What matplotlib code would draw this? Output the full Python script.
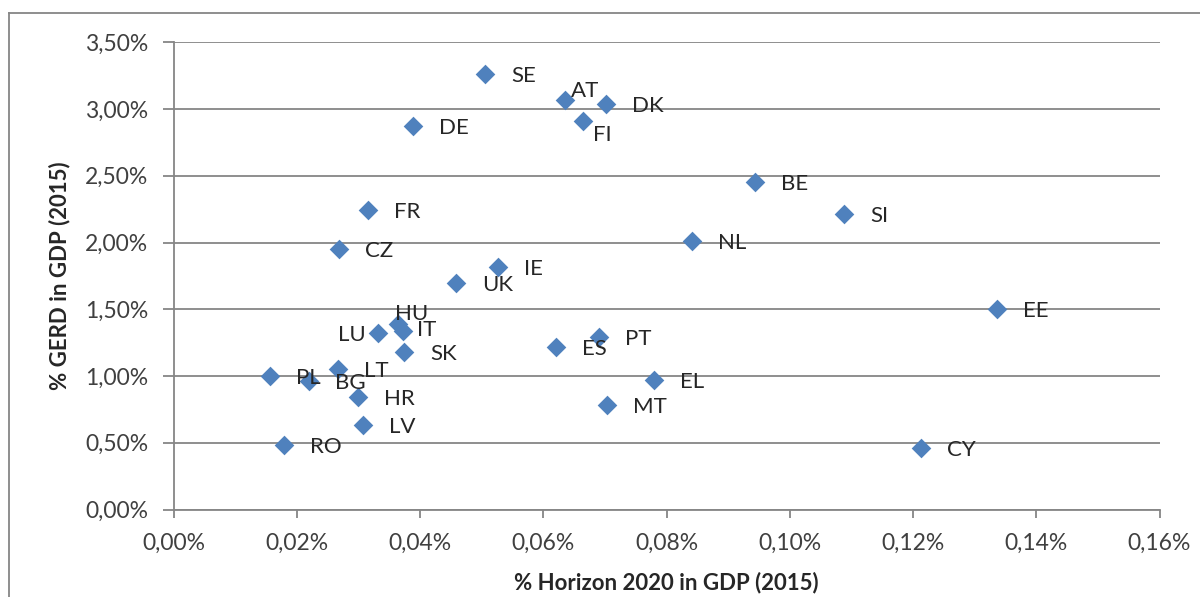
import matplotlib.pyplot as plt
from matplotlib.lines import Line2D
from matplotlib.ticker import FuncFormatter, MultipleLocator

# Horizon 2020 funding vs GERD, both as % of GDP (2015)
countries = ['SE', 'AT', 'DK', 'FI', 'DE', 'BE', 'SI', 'NL', 'FR', 'CZ', 'IE', 'UK', 'EE', 'CY',
             'HU', 'IT', 'LU', 'SK', 'ES', 'PT', 'EL', 'MT', 'PL', 'BG', 'LT', 'HR', 'LV', 'RO']
h2020 = [0.0506, 0.0636, 0.0702, 0.0665, 0.0389, 0.0943, 0.1088, 0.0842, 0.0316, 0.0268,
         0.0526, 0.0458, 0.1337, 0.1213,
         0.0364, 0.0373, 0.0332, 0.0374, 0.0620, 0.0691, 0.0779, 0.0704, 0.0157, 0.0220,
         0.0267, 0.0299, 0.0307, 0.0180]
gerd = [3.26, 3.07, 3.04, 2.91, 2.87, 2.45, 2.21, 2.01, 2.24, 1.95, 1.82, 1.70, 1.50, 0.46,
        1.39, 1.34, 1.32, 1.18, 1.22, 1.29, 0.97, 0.78, 1.00, 0.96, 1.05, 0.84, 0.63, 0.48]

# label offsets in pixels (dx, dy), default is right of the marker
label_offsets = {'AT': (6, 9), 'FI': (10, -14), 'HU': (-3, 10), 'IT': (14, 1)}
left_labels = ['LU']

grid_col = '#868686'
marker_col = '#4F81BD'
text_col = '#262626'
tick_col = '#404040'

plt.rcParams['font.family'] = ['Lato', 'DejaVu Sans']

fig = plt.figure(figsize=(12, 5.97), dpi=100)
ax = fig.add_axes([173.5 / 1200, 87.5 / 597, 986 / 1200, 467.2 / 597])

ax.scatter(h2020, gerd, marker='D', s=100, color=marker_col, zorder=3, linewidths=0)

for name, x, y in zip(countries, h2020, gerd):
    if name in left_labels:
        ax.annotate(name, (x, y), xytext=(-12, -2), textcoords='offset pixels',
                    ha='right', va='center', fontsize=16, color=text_col, zorder=4)
    else:
        dx, dy = label_offsets.get(name, (26, -2))
        ax.annotate(name, (x, y), xytext=(dx, dy), textcoords='offset pixels',
                    ha='left', va='center', fontsize=16, color=text_col, zorder=4)

ax.set_xlim(0, 0.16)
ax.set_ylim(0, 3.5)
ax.xaxis.set_major_locator(MultipleLocator(0.02))
ax.yaxis.set_major_locator(MultipleLocator(0.5))
ax.xaxis.set_major_formatter(FuncFormatter(lambda v, p: f'{v:.2f}%'.replace('.', ',')))
ax.yaxis.set_major_formatter(FuncFormatter(lambda v, p: f'{v:.2f}%'.replace('.', ',')))

ax.grid(axis='y', color=grid_col, lw=1.3)
ax.set_axisbelow(True)
for side in ['top', 'right']:
    ax.spines[side].set_visible(False)
for side in ['left', 'bottom']:
    ax.spines[side].set_color(grid_col)
    ax.spines[side].set_linewidth(1.3)

ax.tick_params(axis='y', length=8, width=1.3, color=grid_col, pad=10,
               labelsize=16.5, labelcolor=tick_col)
ax.tick_params(axis='x', length=5.5, width=1.3, color=grid_col, pad=11,
               labelsize=16.5, labelcolor=tick_col)

ax.set_xlabel('% Horizon 2020 in GDP (2015)', fontsize=16, fontweight='bold',
              color=text_col, labelpad=13)
ax.set_ylabel('% GERD in GDP (2015)', fontsize=16, fontweight='bold',
              color=text_col, labelpad=11)

# chart area border (runs off the right and bottom edges)
fig.add_artist(Line2D([9 / 1200, 9 / 1200], [0, 1 - 13 / 597], transform=fig.transFigure,
                      color=grid_col, lw=1.3))
fig.add_artist(Line2D([9 / 1200, 1], [1 - 13 / 597, 1 - 13 / 597], transform=fig.transFigure,
                      color=grid_col, lw=1.3))

plt.savefig('out.png', dpi=100)
